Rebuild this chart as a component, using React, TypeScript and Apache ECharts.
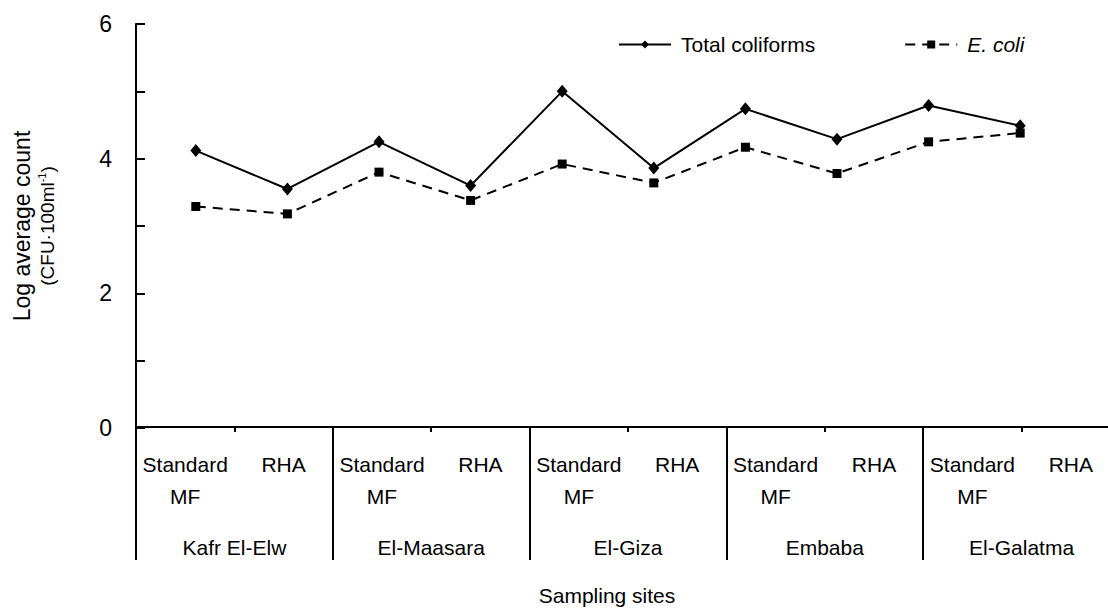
import React, { useEffect, useRef } from "react";
import * as echarts from "echarts";

const FONT = "'Liberation Sans', Arial, Helvetica, sans-serif";

const sites = ["Kafr El-Elw", "El-Maasara", "El-Giza", "Embaba", "El-Galatma"];
const methods = ["Standard\nMF", "RHA"];
const methodLabels = sites.flatMap(() => methods);
const sampleNames = sites.flatMap((s) => methods.map((m) => s + " " + m.replace("\n", " ")));

const totalColiforms = [4.12, 3.55, 4.25, 3.6, 5.0, 3.86, 4.74, 4.29, 4.79, 4.49];
const eColi = [3.29, 3.18, 3.8, 3.38, 3.92, 3.64, 4.17, 3.78, 4.25, 4.38];

const yMin = 0;
const yMax = 6;
const yStep = 1;

export default function App() {
  const ref = useRef<HTMLDivElement>(null);
  useEffect(() => {
    const chart = echarts.init(ref.current!, null, { renderer: "svg" });
    const black = "#000";
    chart.setOption({
      animation: false,
      backgroundColor: "#fff",
      textStyle: { fontFamily: FONT, color: black },
      title: {
        text: "Sampling sites",
        left: 602,
        top: 580,
        textAlign: "center",
        textStyle: { fontSize: 21, fontWeight: "normal", color: black, fontFamily: FONT },
      },
      legend: {
        left: 613,
        top: 29,
        itemWidth: 52,
        itemHeight: 10,
        itemGap: 89,
        data: ["Total coliforms", "E. coli"],
        formatter: (n: string) => (n === "E. coli" ? "{i|E. coli}" : n),
        textStyle: {
          fontSize: 21,
          color: black,
          fontFamily: FONT,
          padding: [0, 0, 0, 5],
          rich: { i: { fontStyle: "italic", fontSize: 21, fontFamily: FONT, color: black } },
        },
      },
      grid: [
        { left: 150, top: 24, width: 916, height: 404 },
        { left: 136, top: 427, width: 984, height: 133 },
      ],
      xAxis: [
        {
          gridIndex: 0,
          type: "category",
          data: sampleNames,
          boundaryGap: true,
          axisLine: { show: false },
          axisTick: { show: false },
          axisLabel: { show: false },
          splitLine: { show: false },
        },
        {
          gridIndex: 1,
          type: "category",
          data: methodLabels,
          position: "top",
          boundaryGap: true,
          axisLine: { show: true, onZero: false, lineStyle: { color: black, width: 2 } },
          axisTick: {
            show: true,
            inside: true,
            length: 5,
            interval: (i: number) => i % 2 === 1,
            lineStyle: { color: black, width: 2 },
          },
          axisLabel: {
            inside: true,
            margin: 21,
            verticalAlign: "top",
            lineHeight: 32,
            fontSize: 21,
            color: black,
            fontFamily: FONT,
            interval: 0,
          },
          splitLine: {
            show: true,
            interval: (i: number) => i % 2 === 0,
            lineStyle: { color: black, width: 2 },
          },
        },
        {
          gridIndex: 1,
          type: "category",
          data: sites,
          position: "bottom",
          boundaryGap: true,
          axisLine: { show: false, onZero: false },
          axisTick: { show: false },
          axisLabel: {
            inside: true,
            margin: 13,
            verticalAlign: "middle",
            fontSize: 21,
            color: black,
            fontFamily: FONT,
            interval: 0,
          },
          splitLine: { show: false },
        },
      ],
      yAxis: [
        {
          gridIndex: 0,
          type: "value",
          min: yMin,
          max: yMax,
          interval: yStep,
          offset: 14,
          axisLine: { show: true, lineStyle: { color: black, width: 2 } },
          axisTick: { show: true, inside: true, length: 9, lineStyle: { color: black, width: 2 } },
          axisLabel: {
            formatter: (v: number) => (v % 2 === 0 ? String(v) : ""),
            margin: 24,
            fontSize: 23,
            color: black,
            fontFamily: FONT,
          },
          splitLine: { show: false },
          name: "{a|Log average count}\n{b|(CFU·100ml}{s|-1}{b|)}",
          nameLocation: "middle",
          nameRotate: 90,
          nameGap: 78,
          nameTextStyle: {
            color: black,
            fontFamily: FONT,
            rich: {
              a: { fontSize: 23, lineHeight: 28, fontFamily: FONT, color: black },
              b: { fontSize: 19, lineHeight: 22, fontFamily: FONT, color: black },
              s: { fontSize: 11, lineHeight: 22, verticalAlign: "top", fontFamily: FONT, color: black },
            },
          },
        },
        { gridIndex: 1, type: "value", show: false },
      ],
      series: [
        {
          name: "Total coliforms",
          type: "line",
          xAxisIndex: 0,
          yAxisIndex: 0,
          data: totalColiforms,
          symbol: "diamond",
          symbolSize: [11, 13],
          lineStyle: { color: black, width: 2 },
          itemStyle: { color: black },
        },
        {
          name: "E. coli",
          type: "line",
          xAxisIndex: 0,
          yAxisIndex: 0,
          data: eColi,
          symbol: "rect",
          symbolSize: 9,
          lineStyle: { color: black, width: 2, type: [10, 7] },
          itemStyle: { color: black },
        },
      ],
    });
    return () => chart.dispose();
  }, []);
  return (
    <div
      style={{
        position: "absolute",
        left: 0,
        top: 0,
        width: 1108,
        height: 616,
        overflow: "hidden",
        background: "#fff",
      }}
    >
      <div ref={ref} style={{ width: 1140, height: 616 }} />
    </div>
  );
}
